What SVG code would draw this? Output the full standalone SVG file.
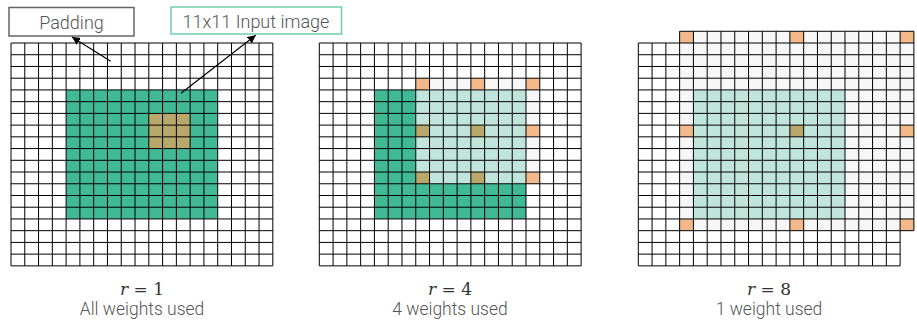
<svg xmlns="http://www.w3.org/2000/svg" xmlns:xlink="http://www.w3.org/1999/xlink" width="917" height="326" viewBox="0 0 917 326">
<style>
.bg{fill:#ffffff}
.grid{fill:none;stroke:#000;stroke-width:1}
.dk{fill:#41b995}
.lt{fill:#c1e5da}
.pg{fill:#f7f7f7}
.or{fill:#f3b98a}
.tn{fill:#b9a86b}
.lbl{font-family:Roboto,"Liberation Sans",sans-serif;font-weight:300;font-size:18px;fill:#555;text-anchor:middle}
.math{font-family:"DejaVu Serif","Liberation Serif",serif;font-size:17px;fill:#333;text-anchor:middle}
.cap{font-family:Roboto,"Liberation Sans",sans-serif;font-weight:300;font-size:17.5px;fill:#555;text-anchor:middle}
.conn{stroke:#000;stroke-width:1.2;fill:none;marker-end:url(#ah)}
</style>
<defs>
<marker id="ah" viewBox="0 0 10 10" refX="10" refY="5" markerWidth="8" markerHeight="8" markerUnits="userSpaceOnUse" orient="auto">
<path d="M0 0L10 5L0 10z" fill="#000"/>
</marker>
<path id="g19" class="grid" vector-effect="non-scaling-stroke" d="M0 0V19M1 0V19M2 0V19M3 0V19M4 0V19M5 0V19M6 0V19M7 0V19M8 0V19M9 0V19M10 0V19M11 0V19M12 0V19M13 0V19M14 0V19M15 0V19M16 0V19M17 0V19M18 0V19M19 0V19M0 0H19M0 1H19M0 2H19M0 3H19M0 4H19M0 5H19M0 6H19M0 7H19M0 8H19M0 9H19M0 10H19M0 11H19M0 12H19M0 13H19M0 14H19M0 15H19M0 16H19M0 17H19M0 18H19M0 19H19"/>
</defs>
<rect class="bg" x="0" y="0" width="917" height="326"/>

<g id="grid-r1">
<g transform="translate(11,43) scale(13.78,11.73)">
<rect class="dk" x="4" y="4" width="11" height="11"/>
<rect class="tn" x="10" y="6" width="3" height="3"/>
<use xlink:href="#g19"/>
</g>
<text class="math" x="142" y="295"><tspan font-style="italic">r</tspan> = 1</text>
<text class="cap" x="142" y="315">All weights used</text>
</g>

<g id="grid-r4">
<g transform="translate(319.3,43) scale(13.78,11.73)">
<rect class="dk" x="4" y="4" width="11" height="11"/>
<rect class="pg" x="7" y="3" width="9" height="9"/>
<rect class="lt" x="7" y="4" width="8" height="8"/>
<rect class="or" x="7" y="3" width="1" height="1"/>
<rect class="or" x="11" y="3" width="1" height="1"/>
<rect class="or" x="15" y="3" width="1" height="1"/>
<rect class="or" x="15" y="7" width="1" height="1"/>
<rect class="or" x="15" y="11" width="1" height="1"/>
<rect class="tn" x="7" y="7" width="1" height="1"/>
<rect class="tn" x="11" y="7" width="1" height="1"/>
<rect class="tn" x="7" y="11" width="1" height="1"/>
<rect class="tn" x="11" y="11" width="1" height="1"/>
<use xlink:href="#g19"/>
</g>
<text class="math" x="450" y="295"><tspan font-style="italic">r</tspan> = 4</text>
<text class="cap" x="450" y="315">4 weights used</text>
</g>

<g id="grid-r8">
<g transform="translate(638.3,43) scale(13.78,11.73)">
<rect class="bg" x="19" y="-1" width="1" height="17"/>
<rect class="pg" x="3" y="-1" width="17" height="17"/>
<rect class="lt" x="4" y="4" width="11" height="11"/>
<rect class="or" x="3" y="-1" width="1" height="1"/>
<rect class="or" x="11" y="-1" width="1" height="1"/>
<rect class="or" x="19" y="-1" width="1" height="1"/>
<rect class="or" x="3" y="7" width="1" height="1"/>
<rect class="or" x="19" y="7" width="1" height="1"/>
<rect class="or" x="3" y="15" width="1" height="1"/>
<rect class="or" x="11" y="15" width="1" height="1"/>
<rect class="or" x="19" y="15" width="1" height="1"/>
<rect class="tn" x="11" y="7" width="1" height="1"/>
<use xlink:href="#g19"/>
<path class="grid" vector-effect="non-scaling-stroke" d="M3 -1H20M3 -1V0M4 -1V0M5 -1V0M6 -1V0M7 -1V0M8 -1V0M9 -1V0M10 -1V0M11 -1V0M12 -1V0M13 -1V0M14 -1V0M15 -1V0M16 -1V0M17 -1V0M18 -1V0M19 -1V0M20 -1V16M19 0H20M19 1H20M19 2H20M19 3H20M19 4H20M19 5H20M19 6H20M19 7H20M19 8H20M19 9H20M19 10H20M19 11H20M19 12H20M19 13H20M19 14H20M19 15H20M19 16H20"/>
</g>
<text class="math" x="769" y="295"><tspan font-style="italic">r</tspan> = 8</text>
<text class="cap" x="769" y="315">1 weight used</text>
</g>

<g id="padding-label">
<rect x="9" y="7.5" width="125" height="28.5" fill="#fff" stroke="#666" stroke-width="1.5"/>
<text class="lbl" x="71.5" y="28.5">Padding</text>
</g>

<g id="input-label">
<rect x="171" y="7" width="170.5" height="27" fill="#fff" stroke="#6fcfa8" stroke-width="1.5"/>
<text class="lbl" x="256" y="28">11x11 Input image</text>
</g>

<g id="connectors">
<line class="conn" x1="110.7" y1="61.3" x2="72" y2="37"/>
<line class="conn" x1="181" y1="93.3" x2="255.7" y2="35.3"/>
</g>
</svg>
